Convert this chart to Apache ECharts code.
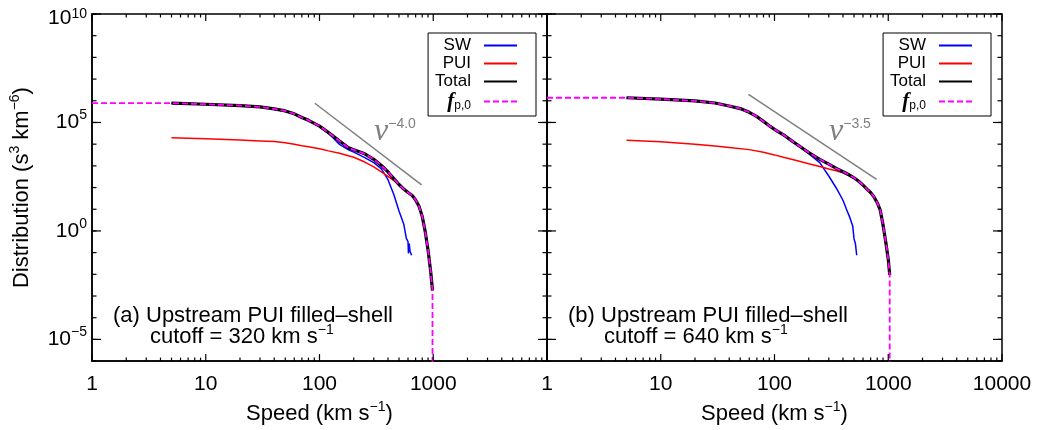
<!DOCTYPE html>
<html><head><meta charset="utf-8">
<script src="https://cdn.jsdelivr.net/npm/echarts@6/dist/echarts.min.js"></script>
<style>html,body{margin:0;padding:0;background:#fff}#c{width:1037px;height:430px}</style>
</head><body><div id="c"></div>
<script>
// ---------------- data ----------------
const xTickValues = [1, 10, 100, 1000, 10000];
const xMinorTicks = [2,3,4,5,6,7,8,9,20,30,40,50,60,70,80,90,200,300,400,500,600,700,800,900,2000,3000,4000,5000,6000,7000,8000,9000];
const yTickValues = [1e-5, 1, 1e5, 1e10];
const yMinorTicks = [1e-6,1e-5,1e-4,1e-3,1e-2,1e-1,1,1e1,1e2,1e3,1e4,1e5,1e6,1e7,1e8,1e9,1e10];

// panel (a) cutoff = 320 km/s
const speedTotalA = [5,10,20,30,40,50,60,70,80,90,100,120,150,180,200,250,300,350,400,450,500,550,600,650,700,750,800,850,900,950,985];
const totalA = [7.8e5,6.9e5,6.0e5,5.2e5,4.2e5,3.4e5,2.5e5,1.7e5,1.26e5,9.1e4,6.8e4,3.4e4,1.4e4,6.8e3,5.5e3,3.6e3,2.0e3,1.05e3,525,257,138,85,59,44,27,13.8,4.7,0.93,0.13,0.013,0.0018];
const speedSwA = [5,10,20,30,40,50,60,70,80,90,100,120,150,180,200,250,300,350,400,450,500,550,580,600,605,615,625,645];
const swA = [7.7e5,6.8e5,5.9e5,5.1e5,4.1e5,3.3e5,2.4e5,1.65e5,1.2e5,8.7e4,6.4e4,3.2e4,9.8e3,5.5e3,4.3e3,2.4e3,1.4e3,720,230,48,8.3,2.1,0.45,0.32,0.093,0.26,0.115,0.076];
const speedPuiA = [5,10,20,30,40,50,60,70,80,100,120,150,200,250,300,350,400,450,500,550,600,650,700,750,800,850,900,950,985];
const puiA = [1.95e4,1.78e4,1.55e4,1.41e4,1.32e4,1.15e4,9.8e3,8.5e3,7.6e3,6.2e3,4.9e3,3.8e3,2.5e3,1.5e3,890,525,330,210,129,81,57.5,42.7,26.3,13.5,4.6,0.91,0.126,0.0126,0.0017];
const fp0SpeedA = [1].concat(speedTotalA, [985]);
const fp0A = [7.8e5].concat(totalA, [1e-9]);
const slopeSpeedA = [91, 790];
const slopeA = [7.7e5, 132];

// panel (b) cutoff = 640 km/s
const speedTotalB = [5,10,20,30,40,50,60,70,80,90,100,120,140,170,200,250,300,350,400,450,500,550,600,650,700,750,800,850,900,950,1000,1030];
const totalB = [1.38e6,1.2e6,9.8e5,7.9e5,5.75e5,4.37e5,2.95e5,1.86e5,1.12e5,7.1e4,4.8e4,2.7e4,1.5e4,7.4e3,4.1e3,2.0e3,1.2e3,760,537,389,282,195,129,85,59,37,20,9.1,1.9,0.32,0.05,0.0095];
const speedSwB = [5,10,20,30,40,50,60,70,80,90,100,120,140,170,200,250,300,350,400,430,460,487,500,515,528];
const swB = [1.36e6,1.18e6,9.6e5,7.7e5,5.7e5,4.3e5,2.9e5,1.8e5,1.09e5,6.8e4,4.5e4,2.5e4,1.45e4,7.1e3,3.6e3,1.4e3,340,93,26,9.8,4.1,1.7,0.44,0.25,0.076];
const speedPuiB = [5,10,20,30,40,60,80,100,120,150,200,250,300,350,400,450,500,550,600,650,700,750,800,850,900,950,1000,1030];
const puiB = [1.51e4,1.29e4,1.0e4,8.3e3,7.1e3,5.6e3,4.2e3,3.2e3,2.5e3,1.86e3,1.26e3,930,720,590,480,370,275,190,126,83,58,36,19.5,8.9,1.86,0.32,0.049,0.0093];
const fp0SpeedB = [1].concat(speedTotalB, [1030]);
const fp0B = [1.38e6].concat(totalB, [1e-9]);
const slopeSpeedB = [59, 790];
const slopeB = [1.97e6, 237];

const legendNames = ['SW', 'PUI', 'Total', 'fp0'];
const panelTitles = ['(a) Upstream PUI filled–shell', '(b) Upstream PUI filled–shell'];
const cutoffTexts = ['cutoff = 320 km s', 'cutoff = 640 km s'];
const slopeTexts = ['−4.0', '−3.5'];

// ---------------- helpers ----------------
const FONT = '"Liberation Sans", Arial, Helvetica, sans-serif';
const SERIF = '"Liberation Serif", "DejaVu Serif", serif';
const zip = (xs, ys) => xs.map((x, i) => [x, ys[i]]);
const supRich = {
  b: {fontSize: 21, fontFamily: FONT, color: '#000', lineHeight: 28},
  s: {fontSize: 14, fontFamily: FONT, color: '#000', lineHeight: 14, verticalAlign: 'top'},
  h: {fontSize: 14, fontFamily: FONT, color: '#000', lineHeight: 30, width: 0},
  bt: {fontSize: 21, fontFamily: FONT, color: '#000', lineHeight: 16, verticalAlign: 'bottom'},
  st: {fontSize: 14, fontFamily: FONT, color: '#000', lineHeight: 14, verticalAlign: 'middle'}
};
const nameRich = {
  b: {fontSize: 22, fontFamily: FONT, color: '#000', lineHeight: 28},
  s: {fontSize: 14, fontFamily: FONT, color: '#000', lineHeight: 14, verticalAlign: 'top'}
};
const axLine = {show: true, onZero: false, lineStyle: {color: '#000', width: 1.5}};

function xAxisFor(grid, hideLast) {
  return {
    type: 'log', logBase: 10, gridIndex: grid, min: 1, max: 1e4, position: 'bottom',
    splitLine: {show: false}, minorTick: {show: false}, axisLine: axLine, axisTick: {show: false},
    axisLabel: {show: true, customValues: xTickValues, margin: 13, fontSize: 21, fontFamily: FONT, color: '#000',
      formatter: v => (hideLast && Math.round(v) >= 10000) ? '' : String(Math.round(v))},
    name: '{b|Speed (km s}{s|−1}{b|)}', nameLocation: 'middle', nameGap: 31,
    nameTextStyle: {rich: nameRich}
  };
}
function yAxisFor(grid, withLabels) {
  const ax = {
    type: 'log', logBase: 10, gridIndex: grid, min: 1e-6, max: 1e10, position: 'left',
    splitLine: {show: false}, minorTick: {show: false}, axisLine: axLine, axisTick: {show: false},
    axisLabel: {show: withLabels, customValues: yTickValues, margin: 5,
      formatter: v => {
        const e = Math.round(Math.log10(v));
        if (e === 10) return '{h|\u200b}{bt|10}{st|10}';
        return '{b|10}{s|' + (e < 0 ? '−' + (-e) : e) + '}';
      },
      rich: supRich}
  };
  if (withLabels) {
    ax.name = '{b|Distribution (s}{s|3}{b| km}{s|−6}{b|)}';
    ax.nameLocation = 'middle';
    ax.nameGap = 56;
    ax.nameTextStyle = {rich: nameRich};
  }
  return ax;
}
function tickRender(params, api) {
  const cs = params.coordSys;
  const isY = api.value(2) === 1, major = api.value(3) === 1;
  const p = api.coord([api.value(0), api.value(1)]);
  const style = {stroke: '#000', lineWidth: 1.2};
  if (!isY) {
    const len = major ? 7 : 3.5, x = p[0], yb = cs.y + cs.height, yt = cs.y;
    return {type: 'group', children: [
      {type: 'line', shape: {x1: x, y1: yb, x2: x, y2: yb - len}, style: style},
      {type: 'line', shape: {x1: x, y1: yt, x2: x, y2: yt + len}, style: style}
    ]};
  }
  const len = major ? 9 : 4.5, y = p[1], xl = cs.x, xr = cs.x + cs.width;
  return {type: 'group', children: [
    {type: 'line', shape: {x1: xl, y1: y, x2: xl + len, y2: y}, style: style},
    {type: 'line', shape: {x1: xr, y1: y, x2: xr - len, y2: y}, style: style}
  ]};
}
function tickSeries(idx) {
  const data = [];
  xTickValues.forEach(v => data.push([v, 1, 0, 1]));
  xMinorTicks.forEach(v => data.push([v, 1, 0, 0]));
  yTickValues.forEach(v => data.push([1, v, 1, 1]));
  yMinorTicks.forEach(v => data.push([1, v, 1, 0]));
  return {type: 'custom', name: 'ticks', xAxisIndex: idx, yAxisIndex: idx, clip: false, silent: true,
    renderItem: tickRender, data: data, z: 20, animation: false};
}
function panelSeries(idx, sw, pui, tot, fp0, slope) {
  const common = {type: 'line', xAxisIndex: idx, yAxisIndex: idx, symbol: 'none', showSymbol: false, smooth: false, clip: true, animation: false};
  return [
    Object.assign({}, common, {name: 'SW', data: sw, lineStyle: {color: '#0000ff', width: 1.5}, itemStyle: {color: '#0000ff'}, z: 2}),
    Object.assign({}, common, {name: 'PUI', data: pui, lineStyle: {color: '#ff0000', width: 1.5}, itemStyle: {color: '#ff0000'}, z: 2}),
    Object.assign({}, common, {name: 'Total', data: tot, lineStyle: {color: '#000000', width: 3.2}, itemStyle: {color: '#000000'}, z: 3}),
    Object.assign({}, common, {name: 'fp0', data: fp0, lineStyle: {color: '#ff00ff', width: 1.8, type: [6, 3]}, itemStyle: {color: '#ff00ff'}, z: 4}),
    Object.assign({}, common, {name: 'slope', data: slope, lineStyle: {color: '#7f7f7f', width: 1.5}, itemStyle: {color: '#7f7f7f'}, z: 2}),
    tickSeries(idx)
  ];
}
function legendFor(right) {
  return {
    orient: 'vertical', right: right, top: 33, align: 'right',
    itemWidth: 33, itemHeight: 14, itemGap: 1,
    padding: [4, 18, 4, 7], borderColor: '#000', borderWidth: 1, backgroundColor: '#fff',
    selectedMode: false, data: legendNames,
    lineStyle: {width: 2},
    itemStyle: {opacity: 0},
    formatter: n => n === 'fp0' ? '{f|f}{p|p,0}' : n,
    textStyle: {fontSize: 17, fontFamily: FONT, color: '#000', padding: [0, 8, 0, 0],
      rich: {
        f: {fontFamily: SERIF, fontStyle: 'italic', fontWeight: 'bold', fontSize: 21, lineHeight: 20, color: '#000'},
        p: {fontFamily: FONT, fontSize: 12, lineHeight: 12, verticalAlign: 'bottom', color: '#000'}
      }}
  };
}
function richText(left, top, str, rich) {
  return {type: 'text', left: left, top: top, z: 10, style: {text: str, rich: rich, fill: '#000'}};
}
const annRich = {
  b: {fontSize: 22, fontFamily: FONT, fill: '#000', color: '#000', lineHeight: 28},
  s: {fontSize: 14, fontFamily: FONT, fill: '#000', color: '#000', lineHeight: 14, verticalAlign: 'top'}
};
const nuRich = {
  v: {fontSize: 32, fontFamily: SERIF, fontStyle: 'italic', fill: '#7f7f7f', color: '#7f7f7f', lineHeight: 30},
  s: {fontSize: 14, fontFamily: FONT, fill: '#7f7f7f', color: '#7f7f7f', lineHeight: 14, verticalAlign: 'top'}
};

const chart = echarts.init(document.getElementById('c'), null, {renderer: 'canvas'});
chart.setOption({
  animation: false,
  backgroundColor: '#fff',
  textStyle: {fontFamily: FONT},
  grid: [
    {left: 92, top: 14, width: 455, height: 354, containLabel: false, show: true, borderColor: '#000', borderWidth: 1.5, backgroundColor: 'transparent'},
    {left: 547, top: 14, width: 455, height: 354, containLabel: false, show: true, borderColor: '#000', borderWidth: 1.5, backgroundColor: 'transparent'}
  ],
  xAxis: [xAxisFor(0, true), xAxisFor(1, false)],
  yAxis: [yAxisFor(0, true), yAxisFor(1, false)],
  legend: [legendFor(501), legendFor(46)],
  series: panelSeries(0, zip(speedSwA, swA), zip(speedPuiA, puiA), zip(speedTotalA, totalA), zip(fp0SpeedA, fp0A), zip(slopeSpeedA, slopeA))
    .concat(panelSeries(1, zip(speedSwB, swB), zip(speedPuiB, puiB), zip(speedTotalB, totalB), zip(fp0SpeedB, fp0B), zip(slopeSpeedB, slopeB))),
  graphic: [
    richText(113, 305, '{b|' + panelTitles[0] + '}', annRich),
    richText(150, 323, '{b|' + cutoffTexts[0] + '}{s|−1}', annRich),
    richText(568, 305, '{b|' + panelTitles[1] + '}', annRich),
    richText(604, 323, '{b|' + cutoffTexts[1] + '}{s|−1}', annRich),
    richText(374, 116, '{v|ν}{s|' + slopeTexts[0] + '}', nuRich),
    richText(829, 116, '{v|ν}{s|' + slopeTexts[1] + '}', nuRich)
  ]
});
</script>
</body></html>
